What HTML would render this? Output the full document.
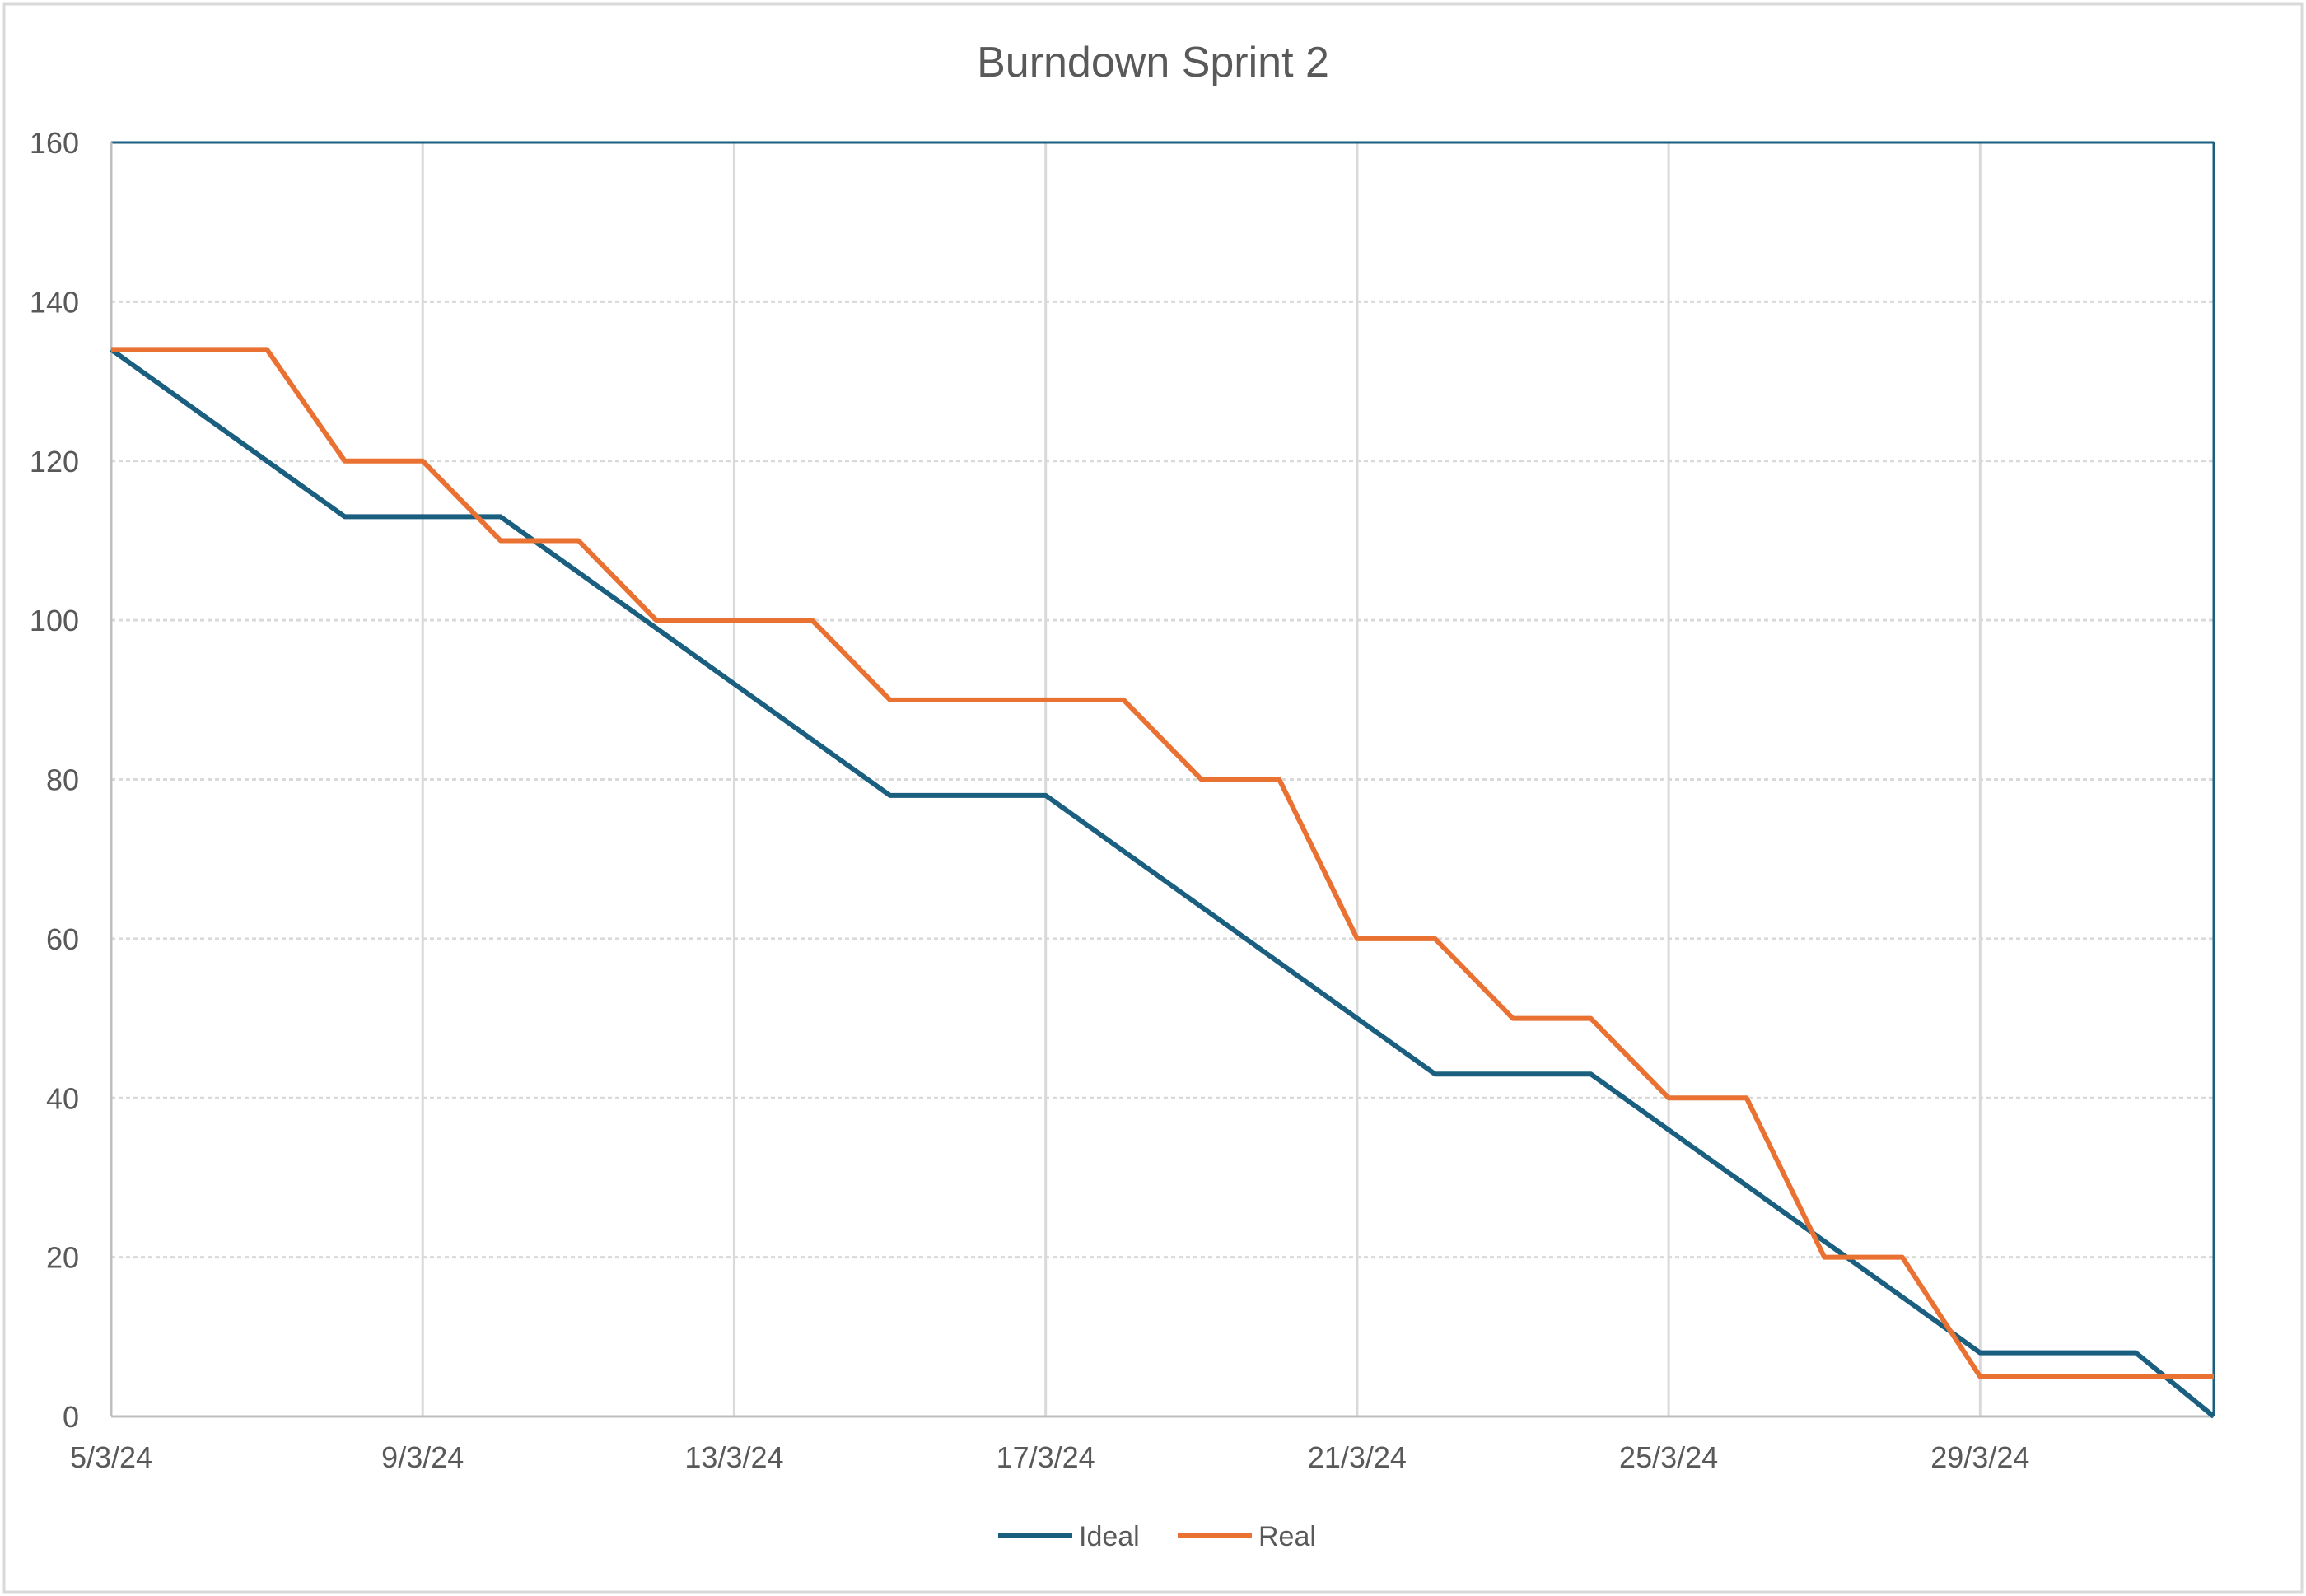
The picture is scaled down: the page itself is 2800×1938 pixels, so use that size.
<!DOCTYPE html>
<html><head><meta charset="utf-8"><style>
html,body{margin:0;padding:0;background:#fff;}
svg{display:block;font-family:"Liberation Sans",sans-serif;}
</style></head><body>
<svg id="chart" width="2800" height="1938" viewBox="0 0 2800 1938">
<rect x="5" y="5" width="2790" height="1928" fill="#fff" stroke="#d9d9d9" stroke-width="3"/>
<text x="1400" y="93" text-anchor="middle" font-size="52" fill="#595959">Burndown Sprint 2</text>
<g id="grid"></g>
<g id="axes"></g>
<g id="series"></g>
<g>
<line x1="1212" y1="1864" x2="1302" y2="1864" stroke="#1a5f80" stroke-width="6"/>
<text x="1310" y="1877" font-size="34" fill="#595959">Ideal</text>
<line x1="1430" y1="1864" x2="1520" y2="1864" stroke="#e97132" stroke-width="6"/>
<text x="1528" y="1877" font-size="34" fill="#595959">Real</text>
</g>
</svg>
<script>
const dayCount = 28;
const xTickLabels = ["5/3/24","9/3/24","13/3/24","17/3/24","21/3/24","25/3/24","29/3/24"];
const yTicks = [0,20,40,60,80,100,120,140,160];
const idealValues = [134,127,120,113,113,113,106,99,92,85,78,78,78,71,64,57,50,43,43,43,36,29,22,15,8,8,8,0];
const realValues = [134,134,134,120,120,110,110,100,100,100,90,90,90,90,80,80,60,60,50,50,40,40,20,20,5,5,5,5];

const PL=135,PR=2688,PT=173,PB=1720,YMAX=160;
const xs=d=>PL+(PR-PL)*d/(dayCount-1);
const ys=v=>PB-(PB-PT)*v/YMAX;
const NS="http://www.w3.org/2000/svg";
function mk(tag,attrs,parent){const e=document.createElementNS(NS,tag);for(const k in attrs)e.setAttribute(k,attrs[k]);parent.appendChild(e);return e;}
const gridG=document.getElementById('grid'),axesG=document.getElementById('axes'),seriesG=document.getElementById('series');
yTicks.forEach(v=>{
  if(v>0&&v<YMAX){const g=mk('line',{x1:PL,x2:PR,y1:ys(v),y2:ys(v),stroke:'#d9d9d9','stroke-width':3,'stroke-dasharray':'5 4'},gridG);
  
  }
  const t=mk('text',{x:96,y:ys(v)+13,'text-anchor':'end','font-size':36,fill:'#595959'},axesG);
  t.textContent=v;
  
  
});
xTickLabels.forEach((lab,i)=>{
  const x=xs(i*4);
  if(i>0){const g=mk('line',{x1:x,x2:x,y1:PT,y2:PB,stroke:'#d9d9d9','stroke-width':3},gridG);
  
  }
  const t=mk('text',{x:x,y:PB+62,'text-anchor':'middle','font-size':36,fill:'#595959'},axesG);
  t.textContent=lab;
  
  
});
const borderTop=mk('line',{x1:PL,x2:PR,y1:PT,y2:PT,stroke:'#1a5f80','stroke-width':3},axesG);


const borderRight=mk('line',{x1:PR,x2:PR,y1:PT,y2:PB,stroke:'#1a5f80','stroke-width':3},axesG);


const yAxisLine=mk('line',{x1:PL,x2:PL,y1:PT,y2:PB,stroke:'#bfbfbf','stroke-width':3},axesG);


const xAxisLine=mk('line',{x1:PL,x2:PR,y1:PB,y2:PB,stroke:'#bfbfbf','stroke-width':3},axesG);


const pts=arr=>arr.map((v,i)=>xs(i)+','+ys(v)).join(' ');
const idealLine=mk('polyline',{points:pts(idealValues),fill:'none',stroke:'#1a5f80','stroke-width':6,'stroke-linejoin':'round'},seriesG);


const realLine=mk('polyline',{points:pts(realValues),fill:'none',stroke:'#e97132','stroke-width':6,'stroke-linejoin':'round'},seriesG);


</script>
</body></html>
